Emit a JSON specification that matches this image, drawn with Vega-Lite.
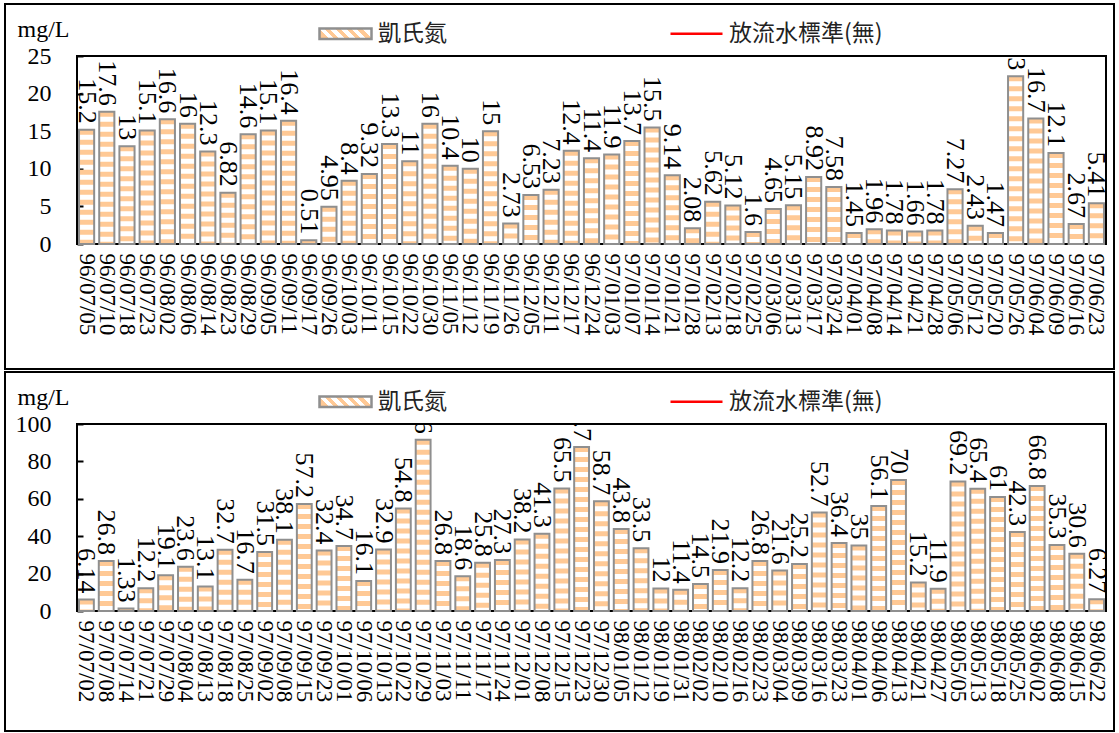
{
  "$schema": "https://vega.github.io/schema/vega-lite/v6.json",
  "padding": {"left": 3, "top": 2, "right": 0, "bottom": 0},
  "background": "white",
  "bounds": "flush",
  "spacing": 180,
  "config": {
    "font": "Liberation Serif",
    "view": {"stroke": "black", "strokeWidth": 2},
    "axis": {"grid": false, "labelColor": "black", "titleColor": "black"},
    "legend": {"strokeWidth": 2}
  },
  "datasets": {
    "panel1": [
      {"date": "96/07/05", "value": 15.2}, {"date": "96/07/10", "value": 17.6}, {"date": "96/07/18", "value": 13},
      {"date": "96/07/23", "value": 15.1}, {"date": "96/08/02", "value": 16.6}, {"date": "96/08/06", "value": 16},
      {"date": "96/08/14", "value": 12.3}, {"date": "96/08/23", "value": 6.82}, {"date": "96/08/29", "value": 14.6},
      {"date": "96/09/05", "value": 15.1}, {"date": "96/09/11", "value": 16.4}, {"date": "96/09/17", "value": 0.51},
      {"date": "96/09/26", "value": 4.95}, {"date": "96/10/03", "value": 8.4}, {"date": "96/10/11", "value": 9.32},
      {"date": "96/10/15", "value": 13.3}, {"date": "96/10/22", "value": 11}, {"date": "96/10/30", "value": 16},
      {"date": "96/11/05", "value": 10.4}, {"date": "96/11/12", "value": 10}, {"date": "96/11/19", "value": 15},
      {"date": "96/11/26", "value": 2.73}, {"date": "96/12/05", "value": 6.53}, {"date": "96/12/11", "value": 7.23},
      {"date": "96/12/17", "value": 12.4}, {"date": "96/12/24", "value": 11.4}, {"date": "97/01/03", "value": 11.9},
      {"date": "97/01/07", "value": 13.7}, {"date": "97/01/14", "value": 15.5}, {"date": "97/01/21", "value": 9.14},
      {"date": "97/01/28", "value": 2.08}, {"date": "97/02/13", "value": 5.62}, {"date": "97/02/18", "value": 5.12},
      {"date": "97/02/25", "value": 1.6}, {"date": "97/03/06", "value": 4.65}, {"date": "97/03/13", "value": 5.15},
      {"date": "97/03/17", "value": 8.92}, {"date": "97/03/24", "value": 7.58}, {"date": "97/04/01", "value": 1.45},
      {"date": "97/04/08", "value": 1.96}, {"date": "97/04/14", "value": 1.78}, {"date": "97/04/21", "value": 1.66},
      {"date": "97/04/28", "value": 1.78}, {"date": "97/05/06", "value": 7.27}, {"date": "97/05/12", "value": 2.43},
      {"date": "97/05/20", "value": 1.47}, {"date": "97/05/26", "value": 22.3}, {"date": "97/06/04", "value": 16.7},
      {"date": "97/06/09", "value": 12.1}, {"date": "97/06/16", "value": 2.67}, {"date": "97/06/23", "value": 5.41}
    ],
    "panel2": [
      {"date": "97/07/02", "value": 6.14}, {"date": "97/07/08", "value": 26.8}, {"date": "97/07/14", "value": 1.33},
      {"date": "97/07/21", "value": 12.2}, {"date": "97/07/29", "value": 19.1}, {"date": "97/08/04", "value": 23.6},
      {"date": "97/08/13", "value": 13.1}, {"date": "97/08/18", "value": 32.7}, {"date": "97/08/25", "value": 16.7},
      {"date": "97/09/02", "value": 31.5}, {"date": "97/09/08", "value": 38.1}, {"date": "97/09/15", "value": 57.2},
      {"date": "97/09/23", "value": 32.4}, {"date": "97/10/01", "value": 34.7}, {"date": "97/10/06", "value": 16.1},
      {"date": "97/10/13", "value": 32.9}, {"date": "97/10/22", "value": 54.8}, {"date": "97/10/29", "value": 91.6},
      {"date": "97/11/03", "value": 26.8}, {"date": "97/11/11", "value": 18.6}, {"date": "97/11/17", "value": 25.8},
      {"date": "97/11/24", "value": 27.3}, {"date": "97/12/01", "value": 38.2}, {"date": "97/12/08", "value": 41.3},
      {"date": "97/12/15", "value": 65.5}, {"date": "97/12/23", "value": 87.7}, {"date": "97/12/30", "value": 58.7},
      {"date": "98/01/05", "value": 43.8}, {"date": "98/01/12", "value": 33.5}, {"date": "98/01/19", "value": 12},
      {"date": "98/01/31", "value": 11.4}, {"date": "98/02/02", "value": 14.5}, {"date": "98/02/10", "value": 21.9},
      {"date": "98/02/16", "value": 12.2}, {"date": "98/02/23", "value": 26.8}, {"date": "98/03/04", "value": 21.6},
      {"date": "98/03/09", "value": 25.2}, {"date": "98/03/16", "value": 52.7}, {"date": "98/03/23", "value": 36.4},
      {"date": "98/04/01", "value": 35}, {"date": "98/04/06", "value": 56.1}, {"date": "98/04/13", "value": 70},
      {"date": "98/04/21", "value": 15.2}, {"date": "98/04/27", "value": 11.9}, {"date": "98/05/05", "value": 69.2},
      {"date": "98/05/13", "value": 65.4}, {"date": "98/05/18", "value": 61}, {"date": "98/05/25", "value": 42.3},
      {"date": "98/06/02", "value": 66.8}, {"date": "98/06/08", "value": 35.3}, {"date": "98/06/15", "value": 30.6},
      {"date": "98/06/22", "value": 6.27}
    ],
    "legendItems": [{"s": "凱氏氮"}, {"s": "放流水標準(無)"}]
  },
  "resolve": {
    "scale": {"x": "independent", "y": "independent", "shape": "independent", "stroke": "independent", "color": "independent"},
    "legend": {"shape": "independent", "stroke": "independent", "color": "independent"}
  },
  "vconcat": [
    {
      "width": 1029,
      "height": 188,
      "data": {"name": "panel1"},
      "encoding": {
        "x": {"field": "date", "type": "ordinal", "sort": null,
          "scale": {"paddingInner": 0.25, "paddingOuter": 0.1},
          "axis": {"title": null, "labelAngle": 90, "labelAlign": "left", "labelBaseline": "middle", "labelFont": "Liberation Serif", "labelFontSize": 23, "labelPadding": 9, "ticks": false, "domain": false, "labelOverlap": false}},
        "y": {"field": "value", "type": "quantitative",
          "scale": {"domain": [0, 25], "nice": false},
          "axis": {"values": [0, 5, 10, 15, 20, 25], "tickSize": -6, "tickWidth": 2, "tickColor": "black", "labelPadding": 32, "labelFont": "Liberation Serif", "labelFontSize": 24, "domain": false,
            "title": "mg/L", "titleAngle": 0, "titleAlign": "left", "titleBaseline": "alphabetic", "titleX": -60, "titleY": -20, "titleFont": "Liberation Serif", "titleFontSize": 24, "titleFontWeight": "normal"}}
      },
      "layer": [
        {"mark": {"type": "rule", "strokeWidth": 15, "strokeDash": [5, 5], "strokeCap": "butt", "color": "#FFC995"},
         "encoding": {"y2": {"datum": 0}}},
        {"mark": {"type": "bar", "fill": "transparent", "stroke": "#8f8f8f", "strokeWidth": 2}},
        {"mark": {"type": "text", "angle": 90, "align": "right", "baseline": "middle", "dx": -6, "font": "Liberation Serif", "fontSize": 26, "color": "black", "clip": true},
         "encoding": {"text": {"field": "value", "type": "nominal"}}},
        {"data": {"name": "legendItems"},
         "mark": {"type": "point", "opacity": 0, "strokeWidth": 2.5,
           "fill": {"gradient": "linear", "x1": 0, "y1": 0.6, "x2": 1, "y2": 0.4, "stops": [
             {"offset": 0, "color": "#FFC995"}, {"offset": 0.1, "color": "#FFC995"}, {"offset": 0.1, "color": "#ffffff"}, {"offset": 0.2, "color": "#ffffff"},
             {"offset": 0.2, "color": "#FFC995"}, {"offset": 0.3, "color": "#FFC995"}, {"offset": 0.3, "color": "#ffffff"}, {"offset": 0.4, "color": "#ffffff"},
             {"offset": 0.4, "color": "#FFC995"}, {"offset": 0.5, "color": "#FFC995"}, {"offset": 0.5, "color": "#ffffff"}, {"offset": 0.6, "color": "#ffffff"},
             {"offset": 0.6, "color": "#FFC995"}, {"offset": 0.7, "color": "#FFC995"}, {"offset": 0.7, "color": "#ffffff"}, {"offset": 0.8, "color": "#ffffff"},
             {"offset": 0.8, "color": "#FFC995"}, {"offset": 0.9, "color": "#FFC995"}, {"offset": 0.9, "color": "#ffffff"}, {"offset": 1, "color": "#ffffff"}]}},
         "encoding": {
           "x": null, "y": null,
           "shape": {"field": "s", "type": "nominal", "sort": null,
             "scale": {"domain": ["凱氏氮", "放流水標準(無)"], "range": ["M-1,-0.2H1V0.2H-1Z", "M-1,0H1"]},
             "legend": {"orient": "none", "legendX": 241, "legendY": -50, "direction": "horizontal", "columns": 2, "title": null, "symbolSize": 2704, "symbolStrokeWidth": 2.5, "symbolOpacity": 1, "labelFont": "Noto Sans CJK TC", "labelFontSize": 23, "labelColor": "#222222", "labelOffset": 5, "columnPadding": 218, "labelLimit": 400, "padding": 0}},
           "stroke": {"field": "s", "type": "nominal", "sort": null,
             "scale": {"domain": ["凱氏氮", "放流水標準(無)"], "range": ["#8f8f8f", "#ff0000"]},
             "legend": {"orient": "none", "legendX": 241, "legendY": -50, "direction": "horizontal", "columns": 2, "title": null, "symbolSize": 2704, "symbolStrokeWidth": 2.5, "symbolOpacity": 1, "labelFont": "Noto Sans CJK TC", "labelFontSize": 23, "labelColor": "#222222", "labelOffset": 5, "columnPadding": 218, "labelLimit": 400, "padding": 0}}
         }},
        {"data": {"name": "legendItems"},
         "mark": {"type": "point", "opacity": 0},
         "encoding": {
           "x": null, "y": null,
           "color": {"datum": 1, "type": "quantitative",
             "scale": {"domain": [0, 1], "range": ["white", "white"]},
             "legend": {"type": "gradient", "orient": "none", "legendX": -72, "legendY": -52, "direction": "horizontal", "title": null,
               "gradientLength": 1109, "gradientThickness": 364, "gradientOpacity": 0, "gradientStrokeWidth": 0,
               "labelExpr": "''", "labelFontSize": 1, "labelOffset": 0, "padding": 0, "strokeColor": "black", "fillColor": "transparent"}}
         }}
      ]
    },
    {
      "width": 1029,
      "height": 187,
      "data": {"name": "panel2"},
      "encoding": {
        "x": {"field": "date", "type": "ordinal", "sort": null,
          "scale": {"paddingInner": 0.25, "paddingOuter": 0.1},
          "axis": {"title": null, "labelAngle": 90, "labelAlign": "left", "labelBaseline": "middle", "labelFont": "Liberation Serif", "labelFontSize": 23, "labelPadding": 9, "ticks": false, "domain": false, "labelOverlap": false}},
        "y": {"field": "value", "type": "quantitative",
          "scale": {"domain": [0, 100], "nice": false},
          "axis": {"values": [0, 20, 40, 60, 80, 100], "tickSize": -6, "tickWidth": 2, "tickColor": "black", "labelPadding": 32, "labelFont": "Liberation Serif", "labelFontSize": 24, "domain": false,
            "title": "mg/L", "titleAngle": 0, "titleAlign": "left", "titleBaseline": "alphabetic", "titleX": -60, "titleY": -20, "titleFont": "Liberation Serif", "titleFontSize": 24, "titleFontWeight": "normal"}}
      },
      "layer": [
        {"mark": {"type": "rule", "strokeWidth": 15, "strokeDash": [5, 5], "strokeCap": "butt", "color": "#FFC995"},
         "encoding": {"y2": {"datum": 0}}},
        {"mark": {"type": "bar", "fill": "transparent", "stroke": "#8f8f8f", "strokeWidth": 2}},
        {"mark": {"type": "text", "angle": 90, "align": "right", "baseline": "middle", "dx": -6, "font": "Liberation Serif", "fontSize": 26, "color": "black", "clip": true},
         "encoding": {"text": {"field": "value", "type": "nominal"}}},
        {"data": {"name": "legendItems"},
         "mark": {"type": "point", "opacity": 0, "strokeWidth": 2.5,
           "fill": {"gradient": "linear", "x1": 0, "y1": 0.6, "x2": 1, "y2": 0.4, "stops": [
             {"offset": 0, "color": "#FFC995"}, {"offset": 0.1, "color": "#FFC995"}, {"offset": 0.1, "color": "#ffffff"}, {"offset": 0.2, "color": "#ffffff"},
             {"offset": 0.2, "color": "#FFC995"}, {"offset": 0.3, "color": "#FFC995"}, {"offset": 0.3, "color": "#ffffff"}, {"offset": 0.4, "color": "#ffffff"},
             {"offset": 0.4, "color": "#FFC995"}, {"offset": 0.5, "color": "#FFC995"}, {"offset": 0.5, "color": "#ffffff"}, {"offset": 0.6, "color": "#ffffff"},
             {"offset": 0.6, "color": "#FFC995"}, {"offset": 0.7, "color": "#FFC995"}, {"offset": 0.7, "color": "#ffffff"}, {"offset": 0.8, "color": "#ffffff"},
             {"offset": 0.8, "color": "#FFC995"}, {"offset": 0.9, "color": "#FFC995"}, {"offset": 0.9, "color": "#ffffff"}, {"offset": 1, "color": "#ffffff"}]}},
         "encoding": {
           "x": null, "y": null,
           "shape": {"field": "s", "type": "nominal", "sort": null,
             "scale": {"domain": ["凱氏氮", "放流水標準(無)"], "range": ["M-1,-0.2H1V0.2H-1Z", "M-1,0H1"]},
             "legend": {"orient": "none", "legendX": 241, "legendY": -50, "direction": "horizontal", "columns": 2, "title": null, "symbolSize": 2704, "symbolStrokeWidth": 2.5, "symbolOpacity": 1, "labelFont": "Noto Sans CJK TC", "labelFontSize": 23, "labelColor": "#222222", "labelOffset": 5, "columnPadding": 218, "labelLimit": 400, "padding": 0}},
           "stroke": {"field": "s", "type": "nominal", "sort": null,
             "scale": {"domain": ["凱氏氮", "放流水標準(無)"], "range": ["#8f8f8f", "#ff0000"]},
             "legend": {"orient": "none", "legendX": 241, "legendY": -50, "direction": "horizontal", "columns": 2, "title": null, "symbolSize": 2704, "symbolStrokeWidth": 2.5, "symbolOpacity": 1, "labelFont": "Noto Sans CJK TC", "labelFontSize": 23, "labelColor": "#222222", "labelOffset": 5, "columnPadding": 218, "labelLimit": 400, "padding": 0}}
         }},
        {"data": {"name": "legendItems"},
         "mark": {"type": "point", "opacity": 0},
         "encoding": {
           "x": null, "y": null,
           "color": {"datum": 1, "type": "quantitative",
             "scale": {"domain": [0, 1], "range": ["white", "white"]},
             "legend": {"type": "gradient", "orient": "none", "legendX": -72, "legendY": -52, "direction": "horizontal", "title": null,
               "gradientLength": 1109, "gradientThickness": 358, "gradientOpacity": 0, "gradientStrokeWidth": 0,
               "labelExpr": "''", "labelFontSize": 1, "labelOffset": 0, "padding": 0, "strokeColor": "black", "fillColor": "transparent"}}
         }}
      ]
    }
  ]
}
